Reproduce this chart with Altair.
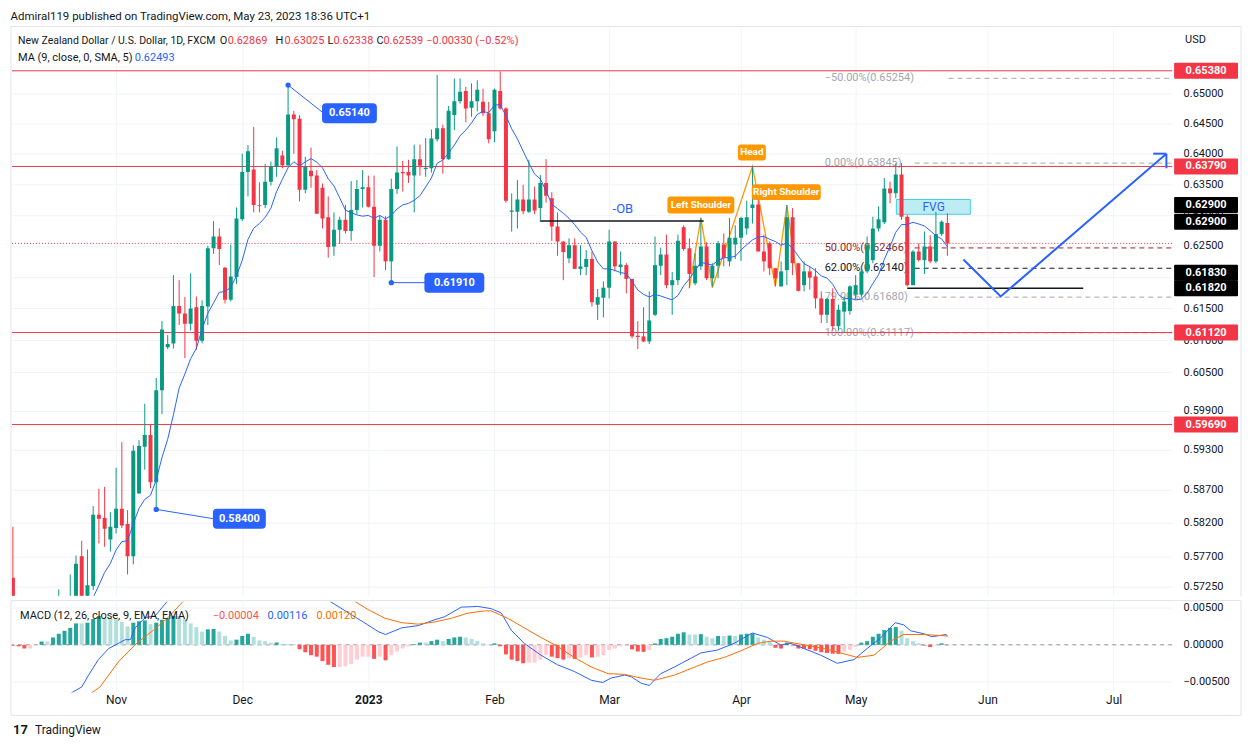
import altair as alt
import pandas as pd

FONT = "Roboto"
GREEN = "#089981"
RED = "#F23645"
BLUE = "#2962FF"
ORANGE = "#FF6D00"
TXT = "#131722"
GRID = "#F0F3FA"
FRAME = "#E0E3EB"

# ---------------- data (daily bars, index 0 = early Oct 2022, 163 = May 23 2023) -------------
OPEN = [.5738, .5660, .5610, .5570, .5555, .5600, .5620, .5665, .5640, .5695,
        .5660, .5705, .5770, .5700, .5726, .5832, .5827, .5795, .5812, .5841,
        .5818, .5770, .5864, .5935, .5953, .5881, .6022, .6089, .6095, .6154,
        .6142, .6126, .6152, .6099, .6153, .6246, .6265, .6215, .6164, .6200,
        .6293, .6370, .6374, .6316, .6316, .6354, .6378, .6397, .6381, .6465,
        .6458, .6341, .6372, .6364, .6344, .6296, .6249, .6276, .6292, .6274,
        .6308, .6342, .6345, .6313, .6250, .6292, .6225, .6342, .6370, .6370,
        .6364, .6391, .6375, .6376, .6424, .6442, .6391, .6464, .6487, .6504,
        .6476, .6487, .6486, .6467, .6437, .6504, .6475, .6305, .6305, .6325,
        .6305, .6325, .6311, .6352, .6327, .6281, .6257, .6230, .6251, .6213,
        .6216, .6229, .6156, .6167, .6183, .6257, .6216, .6219, .6197, .6107,
        .6106, .6098, .6140, .6218, .6236, .6187, .6195, .6280, .6246, .6190,
        .6217, .6249, .6198, .6218, .6252, .6225, .6252, .6263, .6278, .6311,
        .6317, .6241, .6254, .6214, .6185, .6211, .6296, .6222, .6187, .6209,
        .6201, .6166, .6140, .6165, .6122, .6145, .6146, .6172, .6172, .6209,
        .6227, .6278, .6288, .6343, .6335, .6366, .6297, .6187, .6241, .6227,
        .6249, .6225, .6269, .62869]
HIGH = [.5814, .5690, .5640, .5600, .5620, .5650, .5690, .5700, .5721, .5708,
        .5743, .5771, .5793, .5780, .5845, .5871, .5874, .5836, .5903, .5942,
        .5839, .5937, .5945, .6001, .5969, .6041, .6130, .6108, .6203, .6195,
        .6168, .6206, .6169, .6163, .6250, .6290, .6278, .6216, .6252, .6312,
        .6400, .6414, .6444, .6353, .6383, .6387, .6427, .6405, .6514, .6471,
        .6464, .6395, .6410, .6373, .6351, .6330, .6304, .6297, .6316, .6355,
        .6357, .6373, .6364, .6364, .6299, .6298, .6359, .6412, .6388, .6390,
        .6415, .6415, .6426, .6440, .6531, .6448, .6479, .6525, .6525, .6511,
        .6517, .6522, .6508, .6486, .6508, .6537, .6477, .6335, .6357, .6349,
        .6390, .6346, .6365, .6391, .6337, .6304, .6257, .6262, .6262, .6251,
        .6243, .6241, .6181, .6193, .6276, .6257, .6241, .6222, .6197, .6130,
        .6152, .6177, .6265, .6247, .6268, .6208, .6268, .6283, .6262, .6238,
        .6295, .6256, .6222, .6258, .6270, .6295, .6283, .6297, .6323, .6379,
        .6324, .6268, .6257, .6214, .6225, .6316, .6311, .6222, .6225, .6217,
        .6214, .6177, .6167, .6182, .6156, .6169, .6187, .6203, .6217, .6265,
        .6297, .6314, .6360, .6354, .6384, .63845, .6300, .6243, .6254, .6273,
        .6267, .6305, .6291, .63025]
LOW = [.5640, .5600, .5550, .5520, .5540, .5580, .5600, .5620, .5630, .5640,
       .5650, .5690, .5680, .5690, .5720, .5789, .5784, .5777, .5804, .5812,
       .5743, .5758, .5864, .5900, .5872, .5840, .5985, .6086, .6087, .6124,
       .6072, .6115, .6085, .6095, .6124, .6237, .6219, .6158, .6161, .6189,
       .6290, .6330, .6304, .6304, .6311, .6348, .6362, .6376, .6378, .6400,
       .6322, .6335, .6344, .6302, .6278, .6231, .6234, .6253, .6270, .6258,
       .6301, .6312, .6312, .6200, .6241, .6211, .6191, .6334, .6338, .6352,
       .6304, .6364, .6362, .6369, .6420, .6367, .6390, .6439, .6483, .6452,
       .6461, .6470, .6462, .6417, .6419, .6473, .6320, .6273, .6278, .6301,
       .6303, .6301, .6289, .6320, .6258, .6234, .6195, .6222, .6213, .6203,
       .6203, .6153, .6132, .6136, .6166, .6209, .6203, .6174, .6103, .6086,
       .6097, .6094, .6138, .6203, .6182, .6140, .6187, .6242, .6182, .6187,
       .6211, .6195, .6185, .6198, .6217, .6217, .6229, .6226, .6268, .6286,
       .6241, .6209, .6203, .6185, .6185, .6187, .6203, .6177, .6177, .6180,
       .6150, .6127, .6127, .6115, .6116, .6112, .6140, .6164, .6169, .6206,
       .6222, .6273, .6285, .6319, .6327, .6292, .6185, .6187, .6225, .6205,
       .6222, .6222, .6266, .62338]
CLOSE = [.5660, .5610, .5570, .5555, .5600, .5620, .5665, .5640, .5695, .5660,
         .5705, .5759, .5700, .5727, .5832, .5826, .5811, .5814, .5841, .5816,
         .5770, .5929, .5936, .5953, .5881, .6022, .6117, .6094, .6154, .6142,
         .6126, .6150, .6099, .6154, .6246, .6265, .6245, .6164, .6201, .6294,
         .6370, .6404, .6316, .6315, .6354, .6379, .6409, .6381, .6465, .6457,
         .6341, .6378, .6363, .6302, .6294, .6248, .6276, .6292, .6274, .6308,
         .6342, .6345, .6313, .6250, .6292, .6225, .6342, .6369, .6368, .6364,
         .6391, .6380, .6377, .6425, .6442, .6391, .6471, .6487, .6503, .6475,
         .6487, .6506, .6467, .6424, .6506, .6475, .6323, .6307, .6325, .6306,
         .6325, .6307, .6352, .6331, .6281, .6257, .6240, .6251, .6213, .6217,
         .6229, .6160, .6168, .6183, .6257, .6217, .6220, .6197, .6106, .6105,
         .6098, .6131, .6219, .6236, .6187, .6195, .6258, .6245, .6205, .6218,
         .6249, .6198, .6218, .6254, .6231, .6263, .6263, .6295, .6296, .6317,
         .6241, .6225, .6214, .6198, .6209, .6296, .6222, .6178, .6209, .6199,
         .6166, .6140, .6165, .6122, .6148, .6161, .6185, .6187, .6209, .6251,
         .6278, .6293, .6343, .6335, .6366, .6297, .6187, .6241, .6227, .6249,
         .6225, .6269, .6289, .62539]

HIST = [-0.0001, -0.0002, -0.0005, -0.0005, -0.0001, 0.00045, 0.00045, 0.0010, 0.0015, 0.0019,
        0.0023, 0.0029, 0.0029, 0.0030, 0.0035, 0.0039, 0.0037, 0.0036, 0.0035, 0.0031,
        0.0025, 0.0030, 0.0032, 0.0033, 0.0028, 0.0030, 0.0034, 0.0036, 0.0039, 0.0039,
        0.0035, 0.0029, 0.0024, 0.0018, 0.0021, 0.00215, 0.0018, 0.0012, 0.0006, 0.0007,
        0.0012, 0.0015, 0.0011, 0.0006, 0.0005, 0.0003, 0.00032, 0.00015, 0.00012, 0.0001,
        -0.0006, -0.0010, -0.0014, -0.0016, -0.0022, -0.0027, -0.0030, -0.0030, -0.0029, -0.0026,
        -0.0020, -0.0016, -0.0016, -0.0019, -0.0016, -0.0021, -0.0014, -0.0009, -0.0005, -0.0002,
        0.0001, 0.0003, 0.0003, 0.0005, 0.0007, 0.0005, 0.0008, 0.0010, 0.0011, 0.0010,
        0.0008, 0.0005, 0.0002, 0.00005, 0.0002, -0.0002, -0.0013, -0.0020, -0.0022, -0.0025,
        -0.0024, -0.0024, -0.0020, -0.0014, -0.0016, -0.0018, -0.0020, -0.0018, -0.0019, -0.0017,
        -0.0014, -0.0017, -0.0016, -0.0014, -0.0007, -0.0005, -0.0002, -0.0001, -0.0006, -0.0009,
        -0.00095, -0.0007, 0.0002, 0.0008, 0.0009, 0.0011, 0.0015, 0.0017, 0.0014, 0.0014,
        0.00145, 0.0011, 0.0009, 0.0012, 0.0012, 0.00125, 0.0012, 0.0014, 0.0015, 0.00155,
        0.0010, 0.0007, 0.0005, -0.0004, -0.0005, 0.0003, -0.0001, -0.0005, -0.00052, -0.0006,
        -0.0008, -0.0010, -0.0011, -0.0012, -0.00122, -0.0009, -0.0007, -0.0003, 0.0003, 0.0005,
        0.0011, 0.0015, 0.0020, 0.0023, 0.0024, 0.0019, 0.0009, 0.0005, 0.0002, -0.0001,
        -0.0003, -0.0001, 0.0002, -0.00004]

MACD_I = [0, 8, 12, 13.2, 14.9, 16.7, 18.4, 19.6, 20.5, 21.3, 23.1, 24.8, 26.5, 28, 40, 54,
          55.3, 56.1, 59, 61.9, 63.7, 65, 67.8, 70.7, 73.6, 75.3, 78.2, 81.1, 83.4, 85.2,
          86.9, 89.2, 92.1, 95, 97.9, 100.9, 102.9, 104.3, 106.7, 107.8, 109.6, 111, 113,
          115.4, 118.3, 120, 122.9, 125.8, 129, 131.6, 133.9, 135.7, 138, 140.9, 143.8,
          146.7, 149, 151.3, 153.9, 155.4, 156.6, 158.9, 160.3, 162.8, 163]
MACD_V = [-0.009, -0.0075, -0.0057, -0.0041, -0.0020, -0.0005, 0.0002, 0.0007, 0.0007, 0.0023,
          0.0037, 0.0039, 0.0055, 0.0068, 0.0085, 0.0068, 0.0059, 0.0055, 0.0041, 0.0027,
          0.0018, 0.0014, 0.0023, 0.0026, 0.0034, 0.0038, 0.0051, 0.0052, 0.0049, 0.0043,
          0.0020, 0.0002, -0.0014, -0.0027, -0.0036, -0.0048, -0.0051, -0.0045, -0.0041,
          -0.0043, -0.0052, -0.0055, -0.0039, -0.0030, -0.0018, -0.0011, -0.0007, 0.0002,
          0.0016, 0.0010, 0.0, 0.0002, -0.0005, -0.0014, -0.0025, -0.0020, -0.0005, 0.0009,
          0.0030, 0.0027, 0.0019, 0.0015, 0.0011, 0.0014, 0.00116]
SIG_I = [0, 10, 15.2, 18.4, 21.3, 24.2, 27.1, 29.7, 35, 50, 57, 59.6, 61.9, 64.9, 67.8, 70.7,
         73.6, 76.5, 79.4, 82.3, 83.4, 86.3, 89.2, 92.1, 95, 97.9, 100.9, 103.8, 106.7,
         109.6, 111.9, 115.4, 118.3, 121.2, 124.1, 127, 129.9, 132.2, 134.5, 138, 141.5,
         144.4, 147.3, 150.2, 153.1, 155.4, 158.9, 163]
SIG_V = [-0.0095, -0.0085, -0.0057, -0.0023, 0.0, 0.0018, 0.0037, 0.0059, 0.0075, 0.0075,
         0.0065, 0.0059, 0.0048, 0.0036, 0.0030, 0.0028, 0.0031, 0.0036, 0.0043, 0.0046,
         0.0046, 0.0036, 0.0023, 0.0010, -0.0002, -0.0017, -0.0030, -0.0039, -0.0040,
         -0.0045, -0.0048, -0.0041, -0.0032, -0.0023, -0.0017, -0.0008, 0.0002, 0.0005,
         0.0005, 0.0, -0.0005, -0.0011, -0.0017, -0.0014, 0.0005, 0.0014, 0.0014, 0.0012]

MONTH_IDX = [18, 40, 62, 84, 104, 127, 147, 170, 192]
MONTH_LBL = ["Nov", "Dec", "2023", "Feb", "Mar", "Apr", "May", "Jun", "Jul"]
PRICE_TICKS = [0.5725, 0.577, 0.582, 0.587, 0.593, 0.599, 0.605, 0.61, 0.615, 0.62,
               0.625, 0.63, 0.635, 0.64, 0.645, 0.65]
LEVELS = [0.6538, 0.6379, 0.6112, 0.5969]
LEVEL_TXT = ["0.65380", "0.63790", "0.61120", "0.59690"]
BLACK_TAG_P = [0.6316, 0.6289, 0.6207, 0.6182]
BLACK_TAG_T = ["0.62900", "0.62900", "0.61830", "0.61820"]
LAST_PRICE = 0.62539

FIB_P = [0.65254, 0.63845, 0.62466, 0.6214, 0.6168, 0.61117]
FIB_T = ["\u221250.00%(0.65254)", "0.00%(0.63845)", "50.00%(0.62466)",
         "62.00%(0.62140)", "79.00%(0.61680)", "100.00%(0.61117)"]
FIB_START = [163.2, 157.3, 157.3, 157.3, 157.3, 157.8]
FIB_C = ["#A3A6AF", "#A3A6AF", "#8E2A2A", "#131722", "#A3A6AF", "#A3A6AF"]
FIB_LABEL_I = 141.6

HS_I = [118, 120, 122, 129, 133, 135, 137.1]
HS_P = [0.6183, 0.6295, 0.6183, 0.6379, 0.6185, 0.6316, 0.6178]
HS_BASE = [0.6183, 0.6183, 0.6183, 0.6184, 0.6185, 0.6182, 0.6178]

# ---------------- scales / axes -----------------
W, H1, H2 = 1162, 568, 91
XS = alt.Scale(domain=[-0.16, 202.2], nice=False, zero=False, padding=0)
YS = alt.Scale(type="log", domain=[0.57118, 0.66095], nice=False, padding=0)
MS = alt.Scale(domain=[-0.00645, 0.00585], nice=False, zero=False, padding=0)

XAX_P = alt.Axis(values=MONTH_IDX, labels=False, ticks=False, domain=False, grid=True,
                 gridColor=GRID, title=None)
YAX_P = alt.Axis(orient="right", values=PRICE_TICKS, format=".5f", ticks=False, domain=False,
                 grid=True, gridColor=GRID, labelFontSize=11, labelColor=TXT, labelPadding=11,
                 title=None, labelOverlap=False)
lbl_expr = " : ".join(f"datum.value == {i} ? '{l}'" for i, l in zip(MONTH_IDX, MONTH_LBL)) + " : ''"
XAX_M = alt.Axis(values=MONTH_IDX, labelExpr=lbl_expr,
                 labelFontWeight={"condition": {"test": "datum.value == 62", "value": "bold"}, "value": "normal"},
                 ticks=False, domain=False, grid=True, gridColor=GRID, labelFontSize=12,
                 labelColor=TXT, labelPadding=2, title=None, labelOverlap=False, labelFlush=False)
YAX_M = alt.Axis(orient="right", values=[-0.005, 0, 0.005], format=".5f", ticks=False,
                 domain=False, grid=True, gridColor=GRID, labelFontSize=11, labelColor=TXT,
                 labelPadding=11, title=None)


def PX(f):
    return alt.X(f + ":Q", scale=XS, axis=XAX_P)


def PY(f):
    return alt.Y(f + ":Q", scale=YS, axis=YAX_P)


def MX(f):
    return alt.X(f + ":Q", scale=XS, axis=XAX_M)


def MY(f):
    return alt.Y(f + ":Q", scale=MS, axis=YAX_M)


def rbox(w, h, r=3):
    b = h / w
    rr = 2 * r / w
    return (f"M{-1 + rr},{-b} L{1 - rr},{-b} Q1,{-b} 1,{-b + rr} L1,{b - rr} Q1,{b} {1 - rr},{b} "
            f"L{-1 + rr},{b} Q-1,{b} -1,{b - rr} L-1,{-b + rr} Q-1,{-b} {-1 + rr},{-b} Z")


def one():
    return alt.Chart(pd.DataFrame({"a": [0]}))


def pix_text(t, x, y, color=TXT, size=11, weight="normal", align="left"):
    return alt.Chart(pd.DataFrame({"t": [t]})).mark_text(
        align=align, baseline="middle", fontSize=size, fontWeight=weight, color=color, font=FONT
    ).encode(x=alt.value(x), y=alt.value(y), text="t:N")


def data_text(t, i, p, color, size=11, weight="normal", align="center"):
    return alt.Chart(pd.DataFrame({"t": [t], "i": [i], "p": [p]})).mark_text(
        align=align, baseline="middle", fontSize=size, fontWeight=weight, color=color, font=FONT
    ).encode(x=PX("i"), y=PY("p"), text="t:N")


def data_box(i, p, w, h, color, r=3):
    return alt.Chart(pd.DataFrame({"i": [i], "p": [p]})).mark_point(
        shape=rbox(w, h, r), size=w * w, filled=True, color=color, opacity=1, strokeWidth=0
    ).encode(x=PX("i"), y=PY("p"))


cdf = pd.DataFrame({"i": list(range(len(CLOSE))), "open": OPEN, "high": HIGH,
                    "low": LOW, "close": CLOSE})
candle_color = alt.condition("datum.close >= datum.open", alt.value(GREEN), alt.value(RED))

layers = []

# fib retracement
fib = pd.DataFrame({"p": FIB_P, "t": FIB_T, "s": FIB_START, "c": FIB_C, "lx": [FIB_LABEL_I] * 6})
layers.append(alt.Chart(fib).mark_rule(strokeDash=[5, 4], strokeWidth=1).encode(
    x=PX("s"), x2=alt.value(W), y=PY("p"), color=alt.Color("c:N", scale=None)))
layers.append(alt.Chart(fib).mark_text(align="left", baseline="middle", fontSize=11, font=FONT).encode(
    x=PX("lx"), y=PY("p"), text="t:N", color=alt.Color("c:N", scale=None)))

# head & shoulders
hs = pd.DataFrame({"i": HS_I, "p": HS_P, "b": HS_BASE, "k": list(range(len(HS_I)))})
layers.append(alt.Chart(hs).mark_area(color="#FFEB3B", opacity=0.45).encode(
    x=PX("i"), y=PY("p"), y2=alt.Y2("b:Q"), order="k:Q"))
layers.append(alt.Chart(hs).mark_line(color="#FF9800", strokeWidth=1.3).encode(
    x=PX("i"), y=PY("p"), order="k:Q"))

# FVG zone
fvg = pd.DataFrame({"a": [154.1], "b": [167.0], "p0": [0.6301], "p1": [0.6325]})
layers.append(alt.Chart(fvg).mark_rect(fill="#B2EBF2", stroke="#26C6DA", strokeWidth=1, opacity=0.85).encode(
    x=PX("a"), x2="b:Q", y=PY("p0"), y2="p1:Q"))

# horizontal levels
layers.append(alt.Chart(pd.DataFrame({"p": LEVELS})).mark_rule(color=RED, strokeWidth=1).encode(y=PY("p")))
layers.append(alt.Chart(pd.DataFrame({"p": [LAST_PRICE]})).mark_rule(
    color=RED, strokeWidth=1, strokeDash=[1, 2]).encode(y=PY("p")))

# candles
layers.append(alt.Chart(cdf).mark_rule(clip=True, strokeWidth=1).encode(
    x=PX("i"), y=PY("low"), y2="high:Q", color=candle_color))
layers.append(alt.Chart(cdf).mark_bar(clip=True, width=4).encode(
    x=PX("i"), y=PY("open"), y2="close:Q", color=candle_color))

# MA (9, close, SMA)
layers.append(alt.Chart(cdf).transform_window(
    ma="mean(close)", frame=[-8, 0], sort=[alt.SortField("i")]
).mark_line(clip=True, color=BLUE, strokeWidth=1).encode(x=PX("i"), y=PY("ma")))

# order block line, support line
segs = pd.DataFrame({"a": [92, 156], "b": [120.5, 186.7], "p": [0.6290, 0.6182]})
layers.append(alt.Chart(segs).mark_rule(color="#131722", strokeWidth=1.5).encode(
    x=PX("a"), x2="b:Q", y=PY("p")))
layers.append(data_text("-OB", 106.4, 0.6309, BLUE, size=13))
layers.append(data_text("FVG", 160.6, 0.6313, BLUE, size=12))

# projected path arrow
arrow = pd.DataFrame({
    "i": [165.8, 172.3, 201.2, 198.9, 201.2, 201.2, 201.2],
    "p": [0.6228, 0.6169, 0.6400, 0.6400, 0.6400, 0.6400, 0.6376],
    "g": ["a", "a", "a", "h1", "h1", "h2", "h2"],
    "k": [0, 1, 2, 0, 1, 0, 1]})
layers.append(alt.Chart(arrow).mark_line(color=BLUE, strokeWidth=2).encode(
    x=PX("i"), y=PY("p"), detail="g:N", order="k:Q"))

# callouts
calls = pd.DataFrame({"i": [48, 66, 25], "p": [0.6514, 0.6191, 0.5840],
                      "e": [54.2, 72.0, 35.0], "q": [0.6467, 0.6191, 0.5826]})
layers.append(alt.Chart(calls).transform_fold(["s", "t"]).transform_calculate(
    xi="datum.key == 's' ? datum.i : datum.e", yp="datum.key == 's' ? datum.p : datum.q"
).mark_line(color=BLUE, strokeWidth=1).encode(x=PX("xi"), y=PY("yp"), detail="i:N"))
layers.append(alt.Chart(calls).mark_point(filled=True, color=BLUE, size=28, opacity=1).encode(
    x=PX("i"), y=PY("p")))
for t, i, p, w in [("0.65140", 58.7, 0.6467, 55), ("0.61910", 77.0, 0.6191, 60), ("0.58400", 39.5, 0.5826, 53)]:
    layers.append(data_box(i, p, w, 20, BLUE, 4))
    layers.append(data_text(t, i, p, "white", size=11, weight="bold"))

# pattern labels
for t, i, p, w, h in [("Left Shoulder", 120.0, 0.6316, 67, 17), ("Head", 128.9, 0.6402, 28, 16),
                      ("Right Shoulder", 134.9, 0.6337, 69, 16)]:
    layers.append(data_box(i, p, w, h, "#FF9800", 3))
    layers.append(data_text(t, i, p, "white", size=10, weight="bold"))

# right price-scale tags
tags = pd.DataFrame({"p": LEVELS + BLACK_TAG_P, "t": LEVEL_TXT + BLACK_TAG_T,
                     "c": [RED] * 4 + ["#000000"] * 4})
layers.append(alt.Chart(tags).mark_point(shape=rbox(64, 16, 1), size=64 * 64, filled=True,
                                         opacity=1, strokeWidth=0).encode(
    x=alt.value(W + 34), y=PY("p"), color=alt.Color("c:N", scale=None)))
layers.append(alt.Chart(tags).mark_text(color="white", fontSize=11, fontWeight="bold", font=FONT,
                                        align="center", baseline="middle").encode(
    x=alt.value(W + 34), y=PY("p"), text="t:N"))
layers.append(pix_text("USD", W + 13, 11, TXT, 11))

# legend lines
layers.append(pix_text("New Zealand Dollar / U.S. Dollar, 1D, FXCM", 6, 12.7, TXT, 10.5))
for t, x, c in [("O", 208, TXT), ("0.62869", 216, RED), ("H", 264, TXT), ("0.63025", 273, RED),
                ("L", 316, TXT), ("0.62338", 322, RED), ("C", 365, TXT), ("0.62539", 372, RED),
                ("\u22120.00330 (\u22120.52%)", 415, RED)]:
    layers.append(pix_text(t, x, 12.7, c, 11))
layers.append(pix_text("MA (9, close, 0, SMA, 5)", 6, 29.5, TXT, 11))
layers.append(pix_text("0.62493", 123, 29.5, BLUE, 11))

# frame
layers.append(one().mark_rule(color=FRAME).encode(x=alt.value(-1), x2=alt.value(W + 69), y=alt.value(-2)))
layers.append(one().mark_rule(color=FRAME).encode(x=alt.value(-1), y=alt.value(-2), y2=alt.value(H1 + 1)))
layers.append(one().mark_rule(color=FRAME).encode(x=alt.value(W + 69), y=alt.value(-2), y2=alt.value(H1 + 1)))

price = alt.layer(*layers).properties(width=W, height=H1)

# ---------------- MACD panel -----------------
mdf = pd.DataFrame({"i": list(range(len(HIST))), "h": HIST})
lines = pd.concat([
    pd.DataFrame({"i": MACD_I, "v": MACD_V, "s": "macd"}),
    pd.DataFrame({"i": SIG_I, "v": SIG_V, "s": "signal"})])

ml = []
ml.append(one().mark_rule(color="#9598A1", strokeDash=[4, 4], strokeWidth=1).encode(
    y=alt.datum(0, type="quantitative", scale=MS, axis=YAX_M)))
ml.append(alt.Chart(mdf).transform_window(
    prev="lag(h)", sort=[alt.SortField("i")]
).transform_calculate(
    z="0",
    pv="isValid(datum.prev) ? datum.prev : 0",
).transform_calculate(
    col="datum.h >= 0 ? (datum.h > datum.pv ? '#26A69A' : '#B2DFDB') : (datum.h < datum.pv ? '#FF5252' : '#FFCDD2')"
).mark_bar(width=4).encode(x=MX("i"), y=MY("h"), y2="z:Q", color=alt.Color("col:N", scale=None)))
ml.append(alt.Chart(lines).mark_line(clip=True, strokeWidth=1).encode(
    x=MX("i"), y=MY("v"), detail="s:N",
    color=alt.Color("s:N", scale=alt.Scale(domain=["macd", "signal"], range=[BLUE, ORANGE]), legend=None)))
ml.append(pix_text("MACD (12, 26, close, 9, EMA, EMA)", 8, 14, TXT, 11))
ml.append(pix_text("\u22120.00004", 201, 14, "#FF5252", 11))
ml.append(pix_text("0.00116", 256, 14, BLUE, 11))
ml.append(pix_text("0.00120", 305, 14, ORANGE, 11))
# frame pieces
ml.append(one().mark_rule(color=FRAME).encode(x=alt.value(-1), x2=alt.value(W + 69), y=alt.value(-1)))
ml.append(one().mark_rule(color=FRAME).encode(x=alt.value(-1), y=alt.value(-1), y2=alt.value(H2 + 23)))
ml.append(one().mark_rule(color=FRAME).encode(x=alt.value(W + 69), y=alt.value(-1), y2=alt.value(H2 + 23)))
ml.append(one().mark_rule(color=FRAME).encode(x=alt.value(-1), x2=alt.value(W + 69), y=alt.value(H2 + 23)))
# footer
ml.append(pix_text("17", 1, 129, TXT, 13, "bold"))
ml.append(pix_text("TradingView", 23, 129, TXT, 12))

macd = alt.layer(*ml).properties(width=W, height=H2)

chart = alt.vconcat(price, macd, spacing=2).resolve_scale(x="independent", y="independent").properties(
    title=alt.TitleParams("Admiral119 published on TradingView.com, May 23, 2023 18:36 UTC+1",
                          anchor="start", fontSize=11.5, fontWeight="normal", color=TXT, font=FONT,
                          offset=4),
    padding={"left": 2, "top": 2, "right": 0, "bottom": 0},
).configure(font=FONT).configure_view(stroke=None)

chart.save("out.html", embed_options={"renderer": "svg", "actions": False})
